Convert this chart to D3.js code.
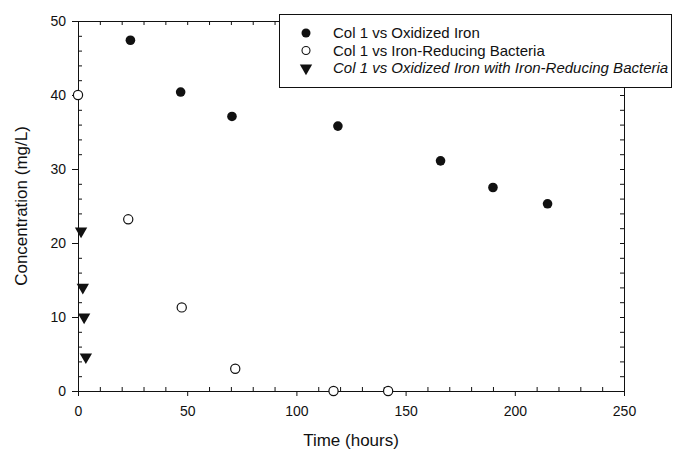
<!DOCTYPE html>
<html>
<head>
<meta charset="utf-8">
<script src="https://cdn.jsdelivr.net/npm/d3@7"></script>
<style>
  body { margin: 0; background: #fff; }
  text { font-family: "Liberation Sans", Arial, sans-serif; fill: #111; }
</style>
</head>
<body>
<div id="chart"></div>
<script>
// data (time in hours, concentration in mg/L)
const oxidizedTime = [24, 47, 70.5, 119, 166, 190, 215];
const oxidizedConc = [47.4, 40.4, 37.1, 35.8, 31.1, 27.5, 25.3];

const bacteriaTime = [0, 23, 47.5, 72, 117, 142];
const bacteriaConc = [40, 23.2, 11.3, 3.0, 0, 0];

const bothTime = [1.4, 2.2, 2.8, 3.6];
const bothConc = [21.6, 14.0, 10.0, 4.6];

const xTicks = [0, 50, 100, 150, 200, 250];
const yTicks = [0, 10, 20, 30, 40, 50];

const legendLabels = [
  "Col 1 vs Oxidized Iron",
  "Col 1 vs Iron-Reducing Bacteria",
  "Col 1 vs Oxidized Iron with Iron-Reducing Bacteria"
];

function chart() {
  const width = 675;
  const height = 452;
  const margin = {top: 21, right: 51, bottom: 61, left: 78};

  const x = d3.scaleLinear().domain([0, 250]).range([margin.left, width - margin.right]);
  const y = d3.scaleLinear().domain([0, 50]).range([height - margin.bottom, margin.top]);

  const svg = d3.select("#chart").append("svg")
      .attr("width", width)
      .attr("height", height);

  const minorX = d3.range(0, 251, 10).filter(v => v % 50 !== 0);
  const minorY = d3.range(0, 51, 2).filter(v => v % 10 !== 0);

  // frame: top and right, with inward ticks
  svg.append("g")
      .attr("transform", `translate(0,${y(50)})`)
      .call(d3.axisTop(x).tickValues(d3.range(0, 251, 10)).tickSize(-4).tickSizeOuter(0).tickFormat(""));
  svg.append("g")
      .attr("transform", `translate(${x(250)},0)`)
      .call(d3.axisRight(y).tickValues(d3.range(0, 51, 2)).tickSize(-4).tickSizeOuter(0).tickFormat(""));

  // bottom axis
  svg.append("g")
      .attr("transform", `translate(0,${y(0)})`)
      .call(d3.axisBottom(x).tickValues(minorX).tickSize(-4).tickSizeOuter(0).tickFormat(""));
  const xAxis = svg.append("g")
      .attr("transform", `translate(0,${y(0)})`)
      .call(d3.axisBottom(x).tickValues(xTicks).tickSize(5).tickSizeOuter(0).tickPadding(10));

  // left axis
  svg.append("g")
      .attr("transform", `translate(${x(0)},0)`)
      .call(d3.axisLeft(y).tickValues(minorY).tickSize(-4).tickSizeOuter(0).tickFormat(""));
  const yAxis = svg.append("g")
      .attr("transform", `translate(${x(0)},0)`)
      .call(d3.axisLeft(y).tickValues(yTicks).tickSize(6).tickSizeOuter(0).tickPadding(6));

  svg.selectAll(".domain, .tick line").attr("stroke", "#111").attr("stroke-width", 1);
  xAxis.selectAll("text").attr("font-size", 14).attr("font-family", "Liberation Sans, Arial, sans-serif");
  yAxis.selectAll("text").attr("font-size", 14).attr("font-family", "Liberation Sans, Arial, sans-serif");

  // axis titles
  svg.append("text")
      .attr("x", (x(0) + x(250)) / 2)
      .attr("y", 446)
      .attr("text-anchor", "middle")
      .attr("font-size", 17)
      .text("Time (hours)");

  svg.append("text")
      .attr("transform", `translate(27,${(y(0) + y(50)) / 2}) rotate(-90)`)
      .attr("text-anchor", "middle")
      .attr("font-size", 17)
      .text("Concentration (mg/L)");

  const tri = d3.symbol().type(d3.symbolTriangle).size(66);

  // series
  svg.append("g").selectAll("circle")
    .data(d3.zip(oxidizedTime, oxidizedConc))
    .join("circle")
      .attr("cx", d => x(d[0]))
      .attr("cy", d => y(d[1]))
      .attr("r", 4.8)
      .attr("fill", "#111");

  svg.append("g").selectAll("circle")
    .data(d3.zip(bacteriaTime, bacteriaConc))
    .join("circle")
      .attr("cx", d => x(d[0]))
      .attr("cy", d => y(d[1]))
      .attr("r", 4.6)
      .attr("fill", "#fff")
      .attr("stroke", "#111")
      .attr("stroke-width", 1.2);

  svg.append("g").selectAll("path")
    .data(d3.zip(bothTime, bothConc))
    .join("path")
      .attr("transform", d => `translate(${x(d[0])},${y(d[1])}) rotate(180)`)
      .attr("d", tri)
      .attr("fill", "#111");

  // legend
  const legend = svg.append("g");
  legend.append("rect")
      .attr("x", 279.5).attr("y", 14.5)
      .attr("width", 392).attr("height", 73)
      .attr("fill", "#fff")
      .attr("stroke", "#111");

  const rows = legend.selectAll("g.row")
    .data(legendLabels)
    .join("g")
      .attr("class", "row")
      .attr("transform", (d, i) => `translate(306,${33 + i * 17.5})`);

  rows.each(function (d, i) {
    const g = d3.select(this);
    if (i === 0) g.append("circle").attr("r", 4.5).attr("fill", "#111");
    if (i === 1) g.append("circle").attr("r", 4).attr("fill", "#fff").attr("stroke", "#111").attr("stroke-width", 1.1);
    if (i === 2) g.append("path").attr("d", tri).attr("transform", "rotate(180)").attr("fill", "#111");
  });

  rows.append("text")
      .attr("x", 27)
      .attr("dy", "0.36em")
      .attr("font-size", 15)
      .attr("font-style", (d, i) => i === 2 ? "italic" : "normal")
      .text(d => d);

  return svg.node();
}

chart();
</script>
</body>
</html>
